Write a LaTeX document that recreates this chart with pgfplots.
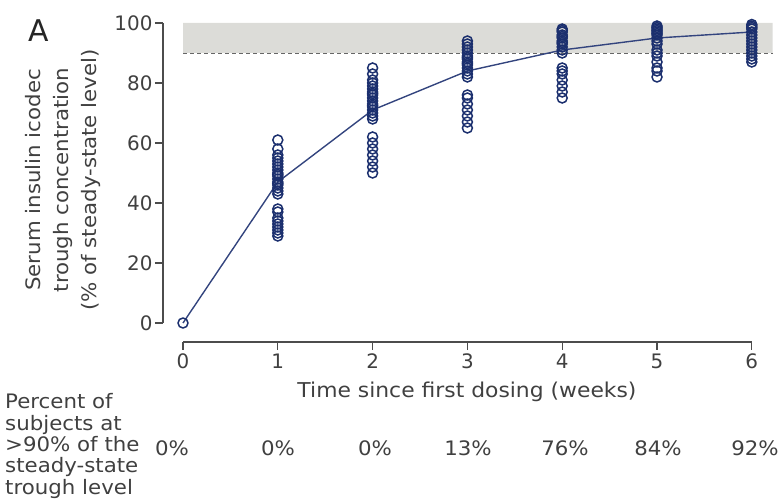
\documentclass[border=0pt]{standalone}
\usepackage{pgfplots}
\pgfplotsset{compat=1.18}
\usepackage{fontspec}
\setmainfont{DejaVu Sans}
\newfontfamily\wide{DejaVu Sans}[FakeStretch=1.07]
\definecolor{navy}{HTML}{1B2F6E}
\definecolor{lineblue}{HTML}{33447E}
\definecolor{band}{HTML}{DCDCD8}
\definecolor{txt}{HTML}{404040}
\begin{document}
\begin{tikzpicture}
\useasboundingbox (0,0) rectangle (779bp,499bp);
\begin{axis}[
  at={(183bp,176bp)}, anchor=origin,
  x=94.8bp, y=3bp,
  xmin=-0.211, xmax=6.25, ymin=-6.33, ymax=101,
  axis lines*=left,
  axis line style={draw=none},
  tick align=outside,
  major tick length=8bp,
  tick style={color=black!70, line width=1.1pt},
  xtick={0,1,2,3,4,5,6},
  ytick={0,20,40,60,80,100},
  /pgf/number format/assume math mode=true,
  ticklabel style={font=\fontsize{20}{22}\selectfont, text=txt},
  yticklabel style={xshift=1bp},
  clip=false,
]
\addplot[fill=band, draw=none] coordinates {(0,90) (6.22,90) (6.22,100) (0,100) (0,90)};
\addplot[dash pattern=on 4bp off 3bp, color=black!60, line width=0.9pt] coordinates {(0,90) (6.22,90)};
\addplot[color=lineblue, line width=1.4pt] coordinates {(0,0) (1,47) (2,71) (3,84) (4,91) (5,95) (6,97)};
\addplot[only marks, mark=o, mark size=5bp, mark options={line width=1.5pt, draw=navy}] table {
x y
0 0
1 61
1 58
1 56
1 55
1 54
1 53
1 52
1 51
1 50
1 49.5
1 49
1 48
1 47
1 46.5
1 46
1 45
1 44
1 43
1 38
1 37
1 35
1 34
1 33
1 32
1 31
1 30
1 29
2 85
2 83
2 81
2 80
2 79
2 78
2 77
2 76.5
2 76
2 75
2 74
2 73
2 72.5
2 72
2 71
2 70
2 69
2 68
2 62
2 60
2 58
2 56
2 54
2 52
2 50
3 94
3 93
3 92
3 91
3 90
3 89
3 88.5
3 88
3 87
3 86.5
3 86
3 85
3 84
3 83
3 82
3 76
3 75
3 73
3 71
3 69
3 67
3 65
4 98
4 97.5
4 97
4 96
4 95.5
4 95
4 94
4 93.5
4 93
4 92
4 91
4 90
4 85
4 84
4 83
4 81
4 79
4 77
4 75
5 99
5 98.5
5 98
5 97.5
5 97
5 96.5
5 96
5 95
5 94
5 93
5 91
5 90
5 89
5 87
5 85
5 84
5 82
6 99.5
6 99
6 98.5
6 98
6 97
6 96
6 95
6 94
6 93
6 92
6 91
6 90
6 89
6 88
6 87
};
\draw[black!70, line width=1.2pt] (axis cs:-0.211,0) -- (axis cs:-0.211,100);
\draw[black!70, line width=1.2pt] (axis cs:0,-6.33) -- (axis cs:6,-6.33);
\end{axis}
\node[font=\fontsize{30}{32}\selectfont, text=black!85] at (39bp,468bp) {A};
\node[rotate=90, align=center, text=txt, font=\wide\fontsize{20}{28}\selectfont] at (63bp,319bp)
  {Serum insulin icodec\\trough concentration\\(\% of steady-state level)};
\node[text=txt, font=\wide\fontsize{20.5}{22}\selectfont] at (467bp,107bp) {Time since first dosing (weeks)};
\node[anchor=west, align=left, text=txt, font=\wide\fontsize{20}{21.5}\selectfont, inner sep=0pt] at (5bp,53bp)
  {Percent of\\subjects at\\>90\% of the\\steady-state\\trough level};
\foreach \xx/\lab in {172/0\%, 278/0\%, 375/0\%, 468/13\%, 565/76\%, 658/84\%, 755/92\%}
  \node[text=txt, font=\wide\fontsize{20}{22}\selectfont] at (\xx bp,51bp) {\lab};
\end{tikzpicture}
\end{document}
